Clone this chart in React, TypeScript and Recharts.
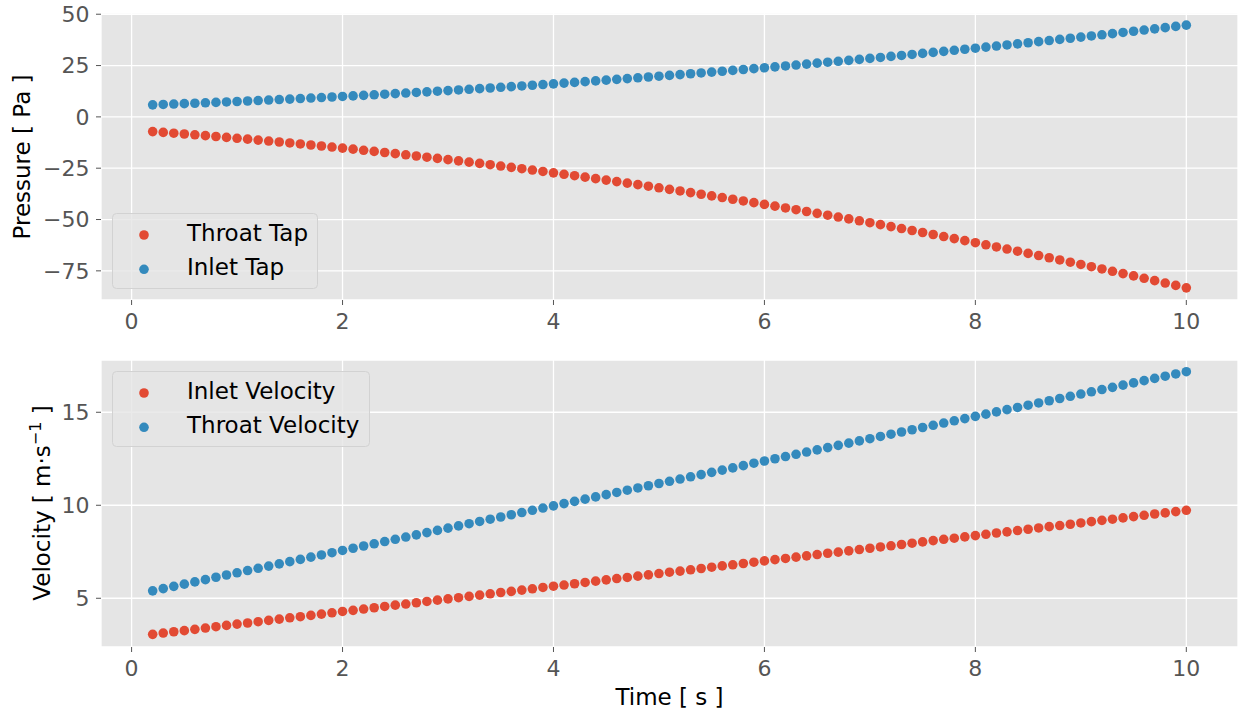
import React from 'react';
import { ScatterChart, Scatter, XAxis, YAxis, CartesianGrid, Legend, Label } from 'recharts';

const time = [
  0.2, 0.3, 0.4, 0.5, 0.6, 0.7, 0.8, 0.9, 1.0, 1.1, 1.2, 1.3, 1.4, 1.5, 1.6, 1.7, 1.8, 1.9, 2.0, 2.1,
  2.2, 2.3, 2.4, 2.5, 2.6, 2.7, 2.8, 2.9, 3.0, 3.1, 3.2, 3.3, 3.4, 3.5, 3.6, 3.7, 3.8, 3.9, 4.0, 4.1,
  4.2, 4.3, 4.4, 4.5, 4.6, 4.7, 4.8, 4.9, 5.0, 5.1, 5.2, 5.3, 5.4, 5.5, 5.6, 5.7, 5.8, 5.9, 6.0, 6.1,
  6.2, 6.3, 6.4, 6.5, 6.6, 6.7, 6.8, 6.9, 7.0, 7.1, 7.2, 7.3, 7.4, 7.5, 7.6, 7.7, 7.8, 7.9, 8.0, 8.1,
  8.2, 8.3, 8.4, 8.5, 8.6, 8.7, 8.8, 8.9, 9.0, 9.1, 9.2, 9.3, 9.4, 9.5, 9.6, 9.7, 9.8, 9.9, 10.0,
];

const throatTap = [
  -7.18, -7.56, -7.94, -8.34, -8.74, -9.14, -9.56, -9.99, -10.42, -10.86, -11.31, -11.77, -12.24, -12.71, -13.19, -13.69, -14.19, -14.69, -15.21, -15.73,
  -16.27, -16.81, -17.36, -17.91, -18.48, -19.05, -19.64, -20.23, -20.83, -21.43, -22.05, -22.67, -23.30, -23.94, -24.59, -25.25, -25.91, -26.59, -27.27, -27.96,
  -28.66, -29.36, -30.08, -30.80, -31.53, -32.27, -33.02, -33.77, -34.54, -35.31, -36.09, -36.88, -37.68, -38.48, -39.30, -40.12, -40.95, -41.79, -42.63, -43.49,
  -44.35, -45.22, -46.10, -46.99, -47.89, -48.79, -49.70, -50.62, -51.55, -52.49, -53.44, -54.39, -55.35, -56.32, -57.30, -58.29, -59.29, -60.29, -61.30, -62.32,
  -63.35, -64.39, -65.43, -66.49, -67.55, -68.62, -69.70, -70.78, -71.88, -72.98, -74.09, -75.21, -76.34, -77.47, -78.62, -79.77, -80.93, -82.10, -83.28,
];

const inletTap = [
  5.85, 6.04, 6.24, 6.44, 6.64, 6.85, 7.06, 7.28, 7.50, 7.73, 7.96, 8.19, 8.43, 8.67, 8.92, 9.17, 9.42, 9.68, 9.95, 10.21,
  10.48, 10.76, 11.04, 11.33, 11.61, 11.91, 12.20, 12.50, 12.81, 13.12, 13.43, 13.75, 14.07, 14.40, 14.73, 15.07, 15.41, 15.75, 16.10, 16.45,
  16.80, 17.17, 17.53, 17.90, 18.27, 18.65, 19.03, 19.42, 19.81, 20.20, 20.60, 21.00, 21.41, 21.82, 22.23, 22.65, 23.08, 23.50, 23.93, 24.37,
  24.81, 25.26, 25.70, 26.16, 26.62, 27.08, 27.54, 28.01, 28.49, 28.96, 29.45, 29.93, 30.42, 30.92, 31.42, 31.92, 32.43, 32.94, 33.46, 33.98,
  34.50, 35.03, 35.57, 36.10, 36.65, 37.19, 37.74, 38.30, 38.85, 39.42, 39.98, 40.55, 41.13, 41.71, 42.29, 42.88, 43.47, 44.07, 44.67,
];

const inletVelocity = [
  3.06, 3.13, 3.20, 3.26, 3.33, 3.40, 3.47, 3.54, 3.61, 3.67, 3.74, 3.81, 3.88, 3.95, 4.01, 4.08, 4.15, 4.22, 4.29, 4.35,
  4.42, 4.49, 4.56, 4.63, 4.69, 4.76, 4.83, 4.90, 4.97, 5.03, 5.10, 5.17, 5.24, 5.31, 5.37, 5.44, 5.51, 5.58, 5.65, 5.71,
  5.78, 5.85, 5.92, 5.99, 6.06, 6.12, 6.19, 6.26, 6.33, 6.40, 6.46, 6.53, 6.60, 6.67, 6.74, 6.80, 6.87, 6.94, 7.01, 7.08,
  7.14, 7.21, 7.28, 7.35, 7.42, 7.48, 7.55, 7.62, 7.69, 7.76, 7.82, 7.89, 7.96, 8.03, 8.10, 8.17, 8.23, 8.30, 8.37, 8.44,
  8.51, 8.57, 8.64, 8.71, 8.78, 8.85, 8.91, 8.98, 9.05, 9.12, 9.19, 9.25, 9.32, 9.39, 9.46, 9.53, 9.59, 9.66, 9.73,
];

const throatVelocity = [
  5.40, 5.52, 5.64, 5.76, 5.88, 6.00, 6.13, 6.25, 6.37, 6.49, 6.61, 6.73, 6.85, 6.97, 7.09, 7.21, 7.33, 7.45, 7.57, 7.69,
  7.81, 7.93, 8.05, 8.17, 8.29, 8.41, 8.53, 8.65, 8.77, 8.89, 9.01, 9.13, 9.25, 9.37, 9.49, 9.61, 9.73, 9.85, 9.97, 10.09,
  10.21, 10.33, 10.45, 10.57, 10.69, 10.81, 10.93, 11.05, 11.17, 11.29, 11.41, 11.53, 11.65, 11.77, 11.89, 12.01, 12.13, 12.26, 12.38, 12.50,
  12.62, 12.74, 12.86, 12.98, 13.10, 13.22, 13.34, 13.46, 13.58, 13.70, 13.82, 13.94, 14.06, 14.18, 14.30, 14.42, 14.54, 14.66, 14.78, 14.90,
  15.02, 15.14, 15.26, 15.38, 15.50, 15.62, 15.74, 15.86, 15.98, 16.10, 16.22, 16.34, 16.46, 16.58, 16.70, 16.82, 16.94, 17.06, 17.18,
];

const xTicks = [0, 2, 4, 6, 8, 10];
const pressureTicks = [-75, -50, -25, 0, 25, 50];
const velocityTicks = [5, 10, 15];

const RED = '#E24A33';
const BLUE = '#348ABD';
const BG = '#E5E5E5';
const FONT = 'DejaVu Sans, Liberation Sans, sans-serif';
const TICK_FS = 22;
const LABEL_FS = 23;

const toPoints = (ys: number[]) => time.map((t, i) => ({ t, v: ys[i] }));
const fmt = (v: number) => String(v).replace('-', '\u2212');

const dot = (color: string) => (p: any) =>
  p.cx == null || p.cy == null ? <g /> : <circle cx={p.cx} cy={p.cy} r={4.8} fill={color} />;

const tickStyle = { fill: '#555555', fontSize: TICK_FS, fontFamily: FONT };

const LegendBox = ({ w, h, items }: { w: number; h: number; items: { name: string; color: string }[] }) => (
  <svg width={w} height={h} style={{ display: 'block' }}>
    <rect x={0.5} y={0.5} width={w - 1} height={h - 1} rx={4} ry={4} fill={BG} fillOpacity={0.8} stroke="#D2D2D2" strokeWidth={1} />
    {items.map((it, i) => (
      <g key={it.name}>
        <circle cx={32} cy={22 + i * 34.3} r={4.8} fill={it.color} />
        <text x={75} y={27.5 + i * 34.3} fontSize={LABEL_FS} fontFamily={FONT} fill="#000">
          {it.name}
        </text>
      </g>
    ))}
  </svg>
);

export default function App() {
  return (
    <div style={{ position: 'absolute', left: 0, top: 0, width: 1239, height: 710, background: '#fff' }}>
      <div style={{ position: 'absolute', left: 0, top: 0 }}>
        <ScatterChart width={1239} height={340} margin={{ top: 13, right: 1, bottom: 0, left: 0 }}>
          <CartesianGrid fill={BG} stroke="#FFFFFF" strokeWidth={1.3} horizontal vertical />
          <XAxis
            type="number"
            dataKey="t"
            domain={[-0.29, 10.49]}
            ticks={xTicks}
            allowDataOverflow
            height={40}
            axisLine={false}
            tickLine={{ stroke: '#555555' }}
            tickSize={5}
            tickMargin={8}
            tick={tickStyle}
            interval={0}
          />
          <YAxis
            type="number"
            dataKey="v"
            domain={[-89.2, 50.6]}
            ticks={pressureTicks}
            allowDataOverflow
            width={101}
            axisLine={false}
            tickLine={{ stroke: '#555555' }}
            tickSize={5}
            tickMargin={6.5}
            tick={tickStyle}
            tickFormatter={fmt}
            interval={0}
          >
            <Label
              content={() => (
                <text x={30} y={157} transform="rotate(-90 30 157)" textAnchor="middle" fontSize={LABEL_FS} fontFamily={FONT} fill="#000">
                  Pressure [ Pa ]
                </text>
              )}
            />
          </YAxis>
          <Scatter name="Throat Tap" data={toPoints(throatTap)} fill={RED} shape={dot(RED)} isAnimationActive={false} />
          <Scatter name="Inlet Tap" data={toPoints(inletTap)} fill={BLUE} shape={dot(BLUE)} isAnimationActive={false} />
          <Legend
            layout="vertical"
            align="center"
            verticalAlign="middle"
            wrapperStyle={{ position: 'absolute', left: 112, top: 213, width: 206, height: 76 }}
            content={() => (
              <LegendBox w={206} h={76} items={[{ name: 'Throat Tap', color: RED }, { name: 'Inlet Tap', color: BLUE }]} />
            )}
          />
        </ScatterChart>
      </div>
      <div style={{ position: 'absolute', left: 0, top: 340 }}>
        <ScatterChart width={1239} height={370} margin={{ top: 20, right: 1, bottom: 0, left: 0 }}>
          <CartesianGrid fill={BG} stroke="#FFFFFF" strokeWidth={1.3} horizontal vertical />
          <XAxis
            type="number"
            dataKey="t"
            domain={[-0.29, 10.49]}
            ticks={xTicks}
            allowDataOverflow
            height={63}
            axisLine={false}
            tickLine={{ stroke: '#555555' }}
            tickSize={5}
            tickMargin={8}
            tick={tickStyle}
            interval={0}
          >
            <Label
              content={() => (
                <text x={669.5} y={365} textAnchor="middle" fontSize={LABEL_FS} fontFamily={FONT} fill="#000">
                  Time [ s ]
                </text>
              )}
            />
          </XAxis>
          <YAxis
            type="number"
            dataKey="v"
            domain={[2.38, 17.81]}
            ticks={velocityTicks}
            allowDataOverflow
            width={101}
            axisLine={false}
            tickLine={{ stroke: '#555555' }}
            tickSize={5}
            tickMargin={6.5}
            tick={tickStyle}
            tickFormatter={fmt}
            interval={0}
          >
            <Label
              content={() => (
                <text x={50} y={163} transform="rotate(-90 50 163)" textAnchor="middle" fontSize={LABEL_FS} fontFamily={FONT} fill="#000">
                  <tspan>Velocity [ m·s</tspan>
                  <tspan dy={-9} fontSize={16}>{'\u22121'}</tspan>
                  <tspan dy={9}> ]</tspan>
                </text>
              )}
            />
          </YAxis>
          <Scatter name="Inlet Velocity" data={toPoints(inletVelocity)} fill={RED} shape={dot(RED)} isAnimationActive={false} />
          <Scatter name="Throat Velocity" data={toPoints(throatVelocity)} fill={BLUE} shape={dot(BLUE)} isAnimationActive={false} />
          <Legend
            layout="vertical"
            align="center"
            verticalAlign="middle"
            wrapperStyle={{ position: 'absolute', left: 112, top: 30.7, width: 258, height: 76 }}
            content={() => (
              <LegendBox w={258} h={76} items={[{ name: 'Inlet Velocity', color: RED }, { name: 'Throat Velocity', color: BLUE }]} />
            )}
          />
        </ScatterChart>
      </div>
    </div>
  );
}
